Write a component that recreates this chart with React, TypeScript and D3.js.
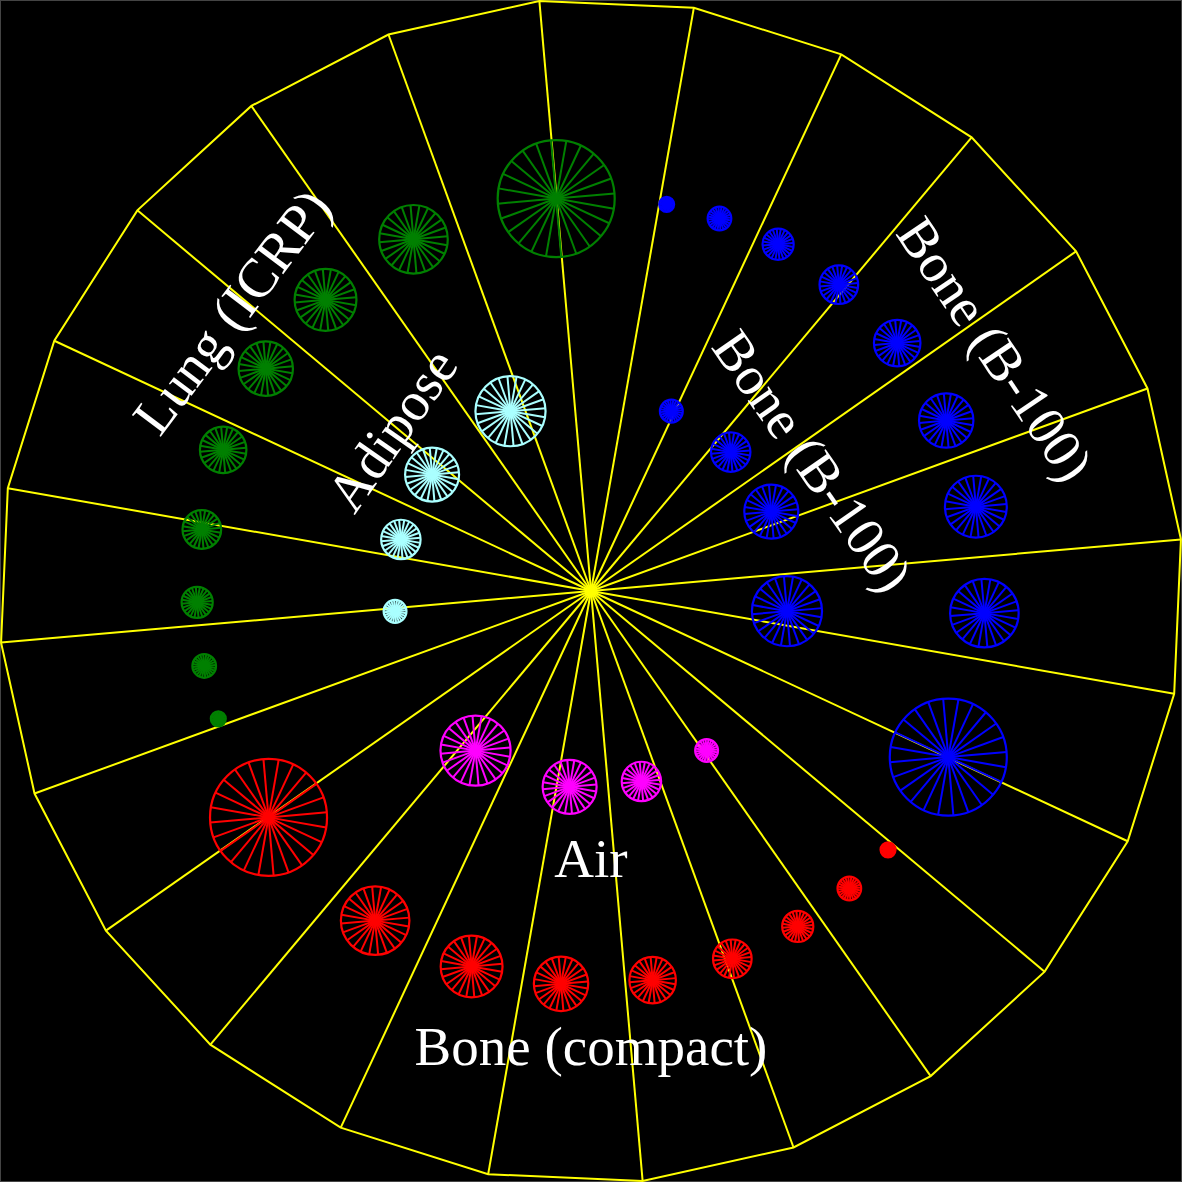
import React from "react";
import * as d3 from "d3";

// phantom layout: angles in degrees, clockwise from 12 o'clock; lengths in cm
const phantomRadius = 15.03;
const sideCount = 24;
const sideOffset = -5;

const outerRing = 10;
const innerRing = 5;

// insert radii, smallest to largest
const outerSizes = [0.19, 0.3, 0.395, 0.49, 0.59, 0.69, 0.785, 0.87, 1.485];
const innerSizes = [0.29, 0.5, 0.685, 0.89];

// insert angles per material
const boneB100OuterAngles = [11.07, 19.03, 28.35, 38.98, 51.0, 64.36, 77.64, 93.22, 114.93];
const lungAngles = [-108.93, -100.97, -91.65, -81.02, -69.0, -55.64, -42.36, -26.78, -5.07];
const boneCompactAngles = [131.07, 139.03, 148.35, 158.98, 171.0, 184.36, 197.64, 213.22, 234.93];
const boneB100InnerAngles = [24.07, 45.17, 66.23, 95.88];
const adiposeAngles = [-95.93, -74.83, -53.77, -24.12];
const airAngles = [144.07, 165.17, 186.23, 215.88];

// labels
const labelTexts = ["Lung (ICRP)", "Adipose", "Bone (B-100)", "Bone (B-100)", "Air", "Bone (compact)"];
const labelAngles = [-52.1, -51, 59.1, 59.6, 180, 180];
const labelRadii = [11.55, 6.5, 11.95, 6.52, 6.8, 11.55];
const labelRotations = [-53, -55, 56, 55, 0, 0];

const W = 1182;
const H = 1182;
const spokesPerInsert = 24;

function App() {
  const x = d3.scaleLinear().domain([-15, 15]).range([0, W]);
  const y = d3.scaleLinear().domain([-15, 15]).range([H, 0]);
  const px = (r: number) => x(r) - x(0);

  const pt = (deg: number, r: number): [number, number] => {
    const a = (deg * Math.PI) / 180;
    return [x(r * Math.sin(a)), y(r * Math.cos(a))];
  };

  const vertexAngles = d3.range(sideCount).map((k) => sideOffset + (360 / sideCount) * k);
  const outline = d3.line()(vertexAngles.map((a) => pt(a, phantomRadius))) + "Z";

  const groups = [
    { angles: boneB100OuterAngles, ring: outerRing, sizes: outerSizes, color: "#0000ff" },
    { angles: lungAngles, ring: outerRing, sizes: outerSizes, color: "#008000" },
    { angles: boneCompactAngles, ring: outerRing, sizes: outerSizes, color: "#ff0000" },
    { angles: boneB100InnerAngles, ring: innerRing, sizes: innerSizes, color: "#0000ff" },
    { angles: adiposeAngles, ring: innerRing, sizes: innerSizes, color: "#aaffff" },
    { angles: airAngles, ring: innerRing, sizes: innerSizes, color: "#ff00ff" },
  ];

  const wheelAngles = d3.range(spokesPerInsert).map((k) => sideOffset + (360 / spokesPerInsert) * k);

  return (
    <div style={{ position: "fixed", left: 0, top: 0 }}>
      <svg width={W} height={H} style={{ display: "block" }}>
        <rect x={0.5} y={0.5} width={W - 1} height={H - 1} fill="#000" stroke="#444" />
        <g stroke="#ffff00" strokeWidth={2} fill="none">
          <path d={outline} />
          {vertexAngles.map((a, i) => {
            const [x2, y2] = pt(a, phantomRadius);
            return <line key={i} x1={x(0)} y1={y(0)} x2={x2} y2={y2} />;
          })}
        </g>
        {groups.map((g, gi) => (
          <g key={gi} stroke={g.color} strokeWidth={2} fill="none">
            {g.angles.map((a, i) => {
              const [cx, cy] = pt(a, g.ring);
              const r = px(g.sizes[i]);
              return (
                <g key={i}>
                  <circle cx={cx} cy={cy} r={r} strokeWidth={2.2} />
                  {wheelAngles.map((w, j) => {
                    const t = (w * Math.PI) / 180;
                    return (
                      <line
                        key={j}
                        x1={cx}
                        y1={cy}
                        x2={cx + r * Math.sin(t)}
                        y2={cy - r * Math.cos(t)}
                      />
                    );
                  })}
                </g>
              );
            })}
          </g>
        ))}
        <g fill="#fff" fontFamily="'Liberation Serif', 'Times New Roman', serif" fontSize={55}>
          {labelTexts.map((t, i) => {
            const [lx, ly] = pt(labelAngles[i], labelRadii[i]);
            return (
              <text
                key={i}
                x={lx}
                y={ly}
                textAnchor="middle"
                dominantBaseline="central"
                transform={`rotate(${labelRotations[i]},${lx},${ly})`}
              >
                {t}
              </text>
            );
          })}
        </g>
      </svg>
    </div>
  );
}

export default App;
